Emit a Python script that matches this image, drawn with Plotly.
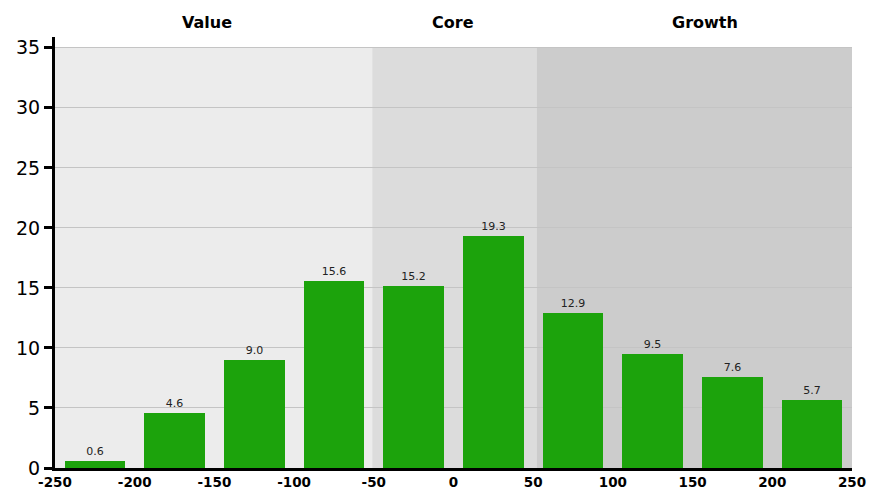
import plotly.graph_objects as go

bin_centers = [-225, -175, -125, -75, -25, 25, 75, 125, 175, 225]
values = [0.6, 4.6, 9.0, 15.6, 15.2, 19.3, 12.9, 9.5, 7.6, 5.7]
value_labels = ["0.6", "4.6", "9.0", "15.6", "15.2", "19.3", "12.9", "9.5", "7.6", "5.7"]
regions = ["Value", "Core", "Growth"]
region_bounds = [(-250, -51), (-51, 52), (52, 250)]
region_colors = ["#ececec", "#dcdcdc", "#cccccc"]
header_x = [-154.5, -0.5, 157.5]
x_ticks = [-250, -200, -150, -100, -50, 0, 50, 100, 150, 200, 250]
y_ticks = [0, 5, 10, 15, 20, 25, 30, 35]

FONT = "DejaVu Sans"

fig = go.Figure()
fig.add_trace(go.Bar(
    x=bin_centers, y=values, width=38,
    marker=dict(color="#1ca30c", line=dict(width=0)),
    text=value_labels, textposition="outside",
    textfont=dict(family=FONT, size=11, color="#222222"),
    cliponaxis=False, hoverinfo="skip",
))

for (x0, x1), c in zip(region_bounds, region_colors):
    fig.add_shape(type="rect", xref="x", yref="y", x0=x0, x1=x1, y0=0, y1=35,
                  fillcolor=c, line=dict(width=0), layer="below")

for name, hx in zip(regions, header_x):
    fig.add_annotation(x=hx, y=1, xref="x", yref="paper", text="<b>%s</b>" % name,
                       showarrow=False, font=dict(family=FONT, size=16, color="#000000"),
                       xanchor="center", yanchor="middle", yshift=15)

fig.update_layout(
    width=869, height=496,
    margin=dict(l=55, r=17, t=37, b=28),
    paper_bgcolor="white", plot_bgcolor="white",
    showlegend=False,
    bargap=0,
    xaxis=dict(range=[-250, 250], tickvals=x_ticks,
               ticktext=["<b>%d</b>" % v for v in x_ticks],
               tickfont=dict(family=FONT, size=13.5, color="#000000"),
               showgrid=False, zeroline=False, showline=True, linecolor="#000000",
               linewidth=3, ticks="", ticklen=0, fixedrange=True, automargin=False),
    yaxis=dict(range=[0, 35.9], tickvals=y_ticks,
               tickfont=dict(family=FONT, size=19, color="#000000"),
               showgrid=True, gridcolor="#c4c4c4", gridwidth=1, zeroline=False,
               showline=True, linecolor="#000000", linewidth=3,
               ticks="outside", ticklen=8, tickwidth=3, tickcolor="#000000",
               fixedrange=True, automargin=False),
)

fig.write_html("out.html", config={"displayModeBar": False},
               post_script="document.body.style.margin='0';document.body.style.overflow='hidden';")
